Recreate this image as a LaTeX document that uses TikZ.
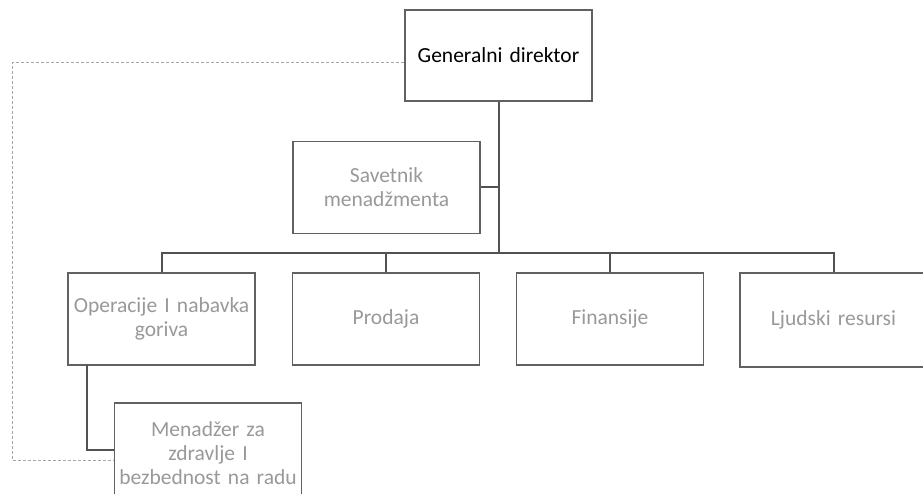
\documentclass[tikz,border=0pt]{standalone}
\usepackage{fontspec}
\setmainfont[WordSpace={0.75}]{Carlito}
\begin{document}
\begin{tikzpicture}[x=1pt,y=-1pt,
  unit/.style={draw=black!62, line width=1.9pt, fill=white, minimum width=187pt,
    minimum height=92pt, inner sep=1pt, text width=185pt, align=center,
    font=\fontsize{21.5}{24}\selectfont, text=black!40},
  link/.style={draw=black!68, line width=2pt},
  dotted link/.style={draw=black!35, line width=1pt, dash pattern=on 3pt off 2pt}]

% page area
\fill[white] (0,0) rectangle (923,494);
\useasboundingbox (0,0) rectangle (923,494);

% units
\node[unit, text=black, minimum width=185pt, minimum height=91pt] (gd) at (498.5,55.5) {Generalni direktor};
\node[unit] (sav) at (386.5,187.5) {Savetnik\\menadžmenta};
\node[unit] (ops) at (161.5,319) {Operacije I nabavka\\goriva};
\node[unit] (pro) at (386,319) {Prodaja};
\node[unit] (fin) at (610,319) {Finansije};
\node[unit, minimum height=94pt] (hr) at (833.5,320) {Ljudski resursi};
\node[unit, minimum height=100pt] (hse) at (208,453) {Menadžer za\\zdravlje I\\bezbednost na radu};

% reporting lines
\coordinate (bus) at (498.5,253);
\coordinate (opsdrop) at (87,365);
\draw[link] (gd.south) -- (gd.south |- bus);
\draw[link] (sav.east) -- (sav.east -| gd.south);
\draw[link] (ops.north) |- (bus) -| (hr.north);
\draw[link] (pro.north) -- (pro.north |- bus);
\draw[link] (fin.north) -- (fin.north |- bus);
\draw[link] (opsdrop) |- ([yshift=3pt]hse.west);

% functional reporting (dashed)
\coordinate (tl) at (12,63);
\draw[dotted link] ([yshift=-7.5pt]gd.west) -- ([yshift=-7.5pt]gd.west -| tl) -- (tl)
  -- (tl |- 0,460) -- ([yshift=-7pt]hse.west);
\end{tikzpicture}
\end{document}
